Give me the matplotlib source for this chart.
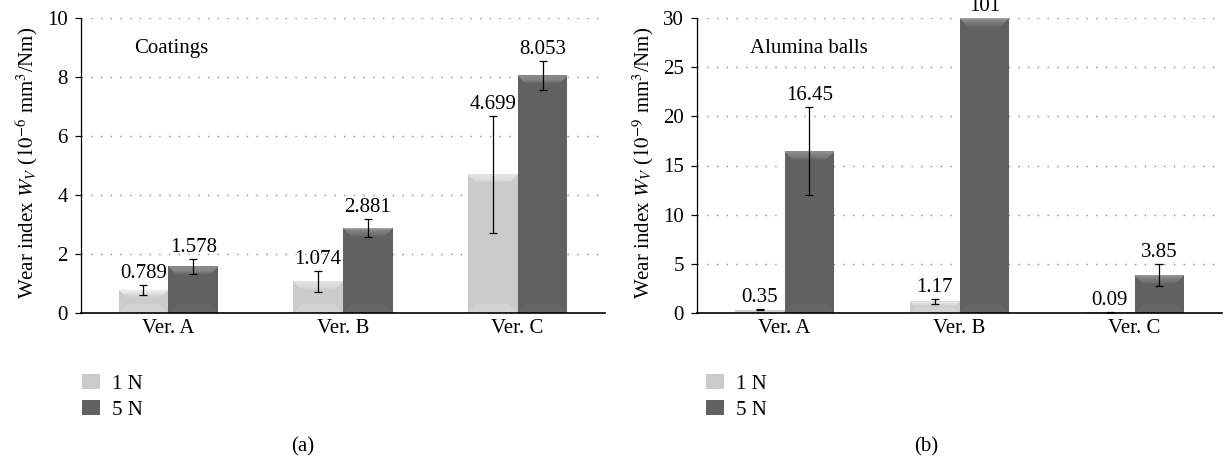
import matplotlib
matplotlib.use('Agg')
import matplotlib.pyplot as plt
from matplotlib.patches import Polygon, Patch
import numpy as np

# ---------------- data ----------------
categories = ['Ver. A', 'Ver. B', 'Ver. C']
series_labels = ['1 N', '5 N']

coat_1N = [0.789, 1.074, 4.699]
coat_5N = [1.578, 2.881, 8.053]
coat_1N_err = [0.17, 0.36, 1.99]
coat_5N_err = [0.24, 0.32, 0.50]

balls_1N = [0.35, 1.17, 0.09]
balls_5N = [16.45, 101, 3.85]
balls_1N_err = [0.08, 0.23, 0.05]
balls_5N_err = [4.5, 0.0, 1.1]   # error of the 101 bar is off-scale / not visible

panel_titles = ['Coatings', 'Alumina balls']
panel_tags = ['(a)', '(b)']
ylabels = [r'Wear index $W_V$ ($10^{-6}$ mm$^3$/Nm)',
           r'Wear index $W_V$ ($10^{-9}$ mm$^3$/Nm)']
ymax_list = [10, 30]
ystep_list = [2, 5]

# ---------------- style ----------------
plt.rcParams['font.family'] = ['Liberation Serif', 'DejaVu Serif']
plt.rcParams['mathtext.fontset'] = 'stix'
FS = 15
C1 = '#cbcbcb'
C5 = '#616161'
C1_TOP = '#f2f2f2'
C5_TOP = '#a4a4a4'
C1_BOT = '#d3d3d3'
C5_BOT = '#666666'

W, H = 1225, 463
fig = plt.figure(figsize=(W / 100, H / 100), dpi=100)


def rect(x0, x1, y0, y1):
    return [x0 / W, 1 - y1 / H, (x1 - x0) / W, (y1 - y0) / H]


def mix(c_a, c_b, t):
    a = np.array(matplotlib.colors.to_rgb(c_a))
    b = np.array(matplotlib.colors.to_rgb(c_b))
    return tuple(a * (1 - t) + b * t)


def bevel(ax, x0, x1, top, c_top, c_face, c_bot, ymax):
    # pixel -> data conversion factors
    p0 = ax.transData.transform((0, 0))
    p1 = ax.transData.transform((1, 1))
    ppx = p1[0] - p0[0]
    ppy = p1[1] - p0[1]
    top = min(top, ymax)
    hpx = min(9.0, top * ppy / 2.0)
    if hpx <= 0.5:
        return
    dx = hpx / ppx
    dy = hpx / ppy
    n = 8
    for i in range(n):
        t0, t1 = i / n, (i + 1) / n
        col = mix(c_top, c_face, (t0 + t1) / 2)
        poly = Polygon([(x0 + t0 * dx, top - t0 * dy), (x1 - t0 * dx, top - t0 * dy),
                        (x1 - t1 * dx, top - t1 * dy), (x0 + t1 * dx, top - t1 * dy)],
                       closed=True, facecolor=col, edgecolor='none', zorder=2.5)
        ax.add_patch(poly)
    # bottom bevel (subtle)
    poly = Polygon([(x0, 0), (x1, 0), (x1 - dx, dy), (x0 + dx, dy)],
                   closed=True, facecolor=c_bot, edgecolor='none', zorder=2.4)
    ax.add_patch(poly)


def draw_panel(ax, v1, e1, v5, e5, ymax, ystep, title):
    x = np.arange(len(categories))
    w = 0.285
    ax.set_xlim(-0.5, len(categories) - 0.5)
    ax.set_ylim(0, ymax)
    ax.bar(x - w / 2, v1, w, color=C1, zorder=2)
    ax.bar(x + w / 2, v5, w, color=C5, zorder=2)
    for xi, v in zip(x, v1):
        bevel(ax, xi - w, xi, v, C1_TOP, C1, C1_BOT, ymax)
    for xi, v in zip(x, v5):
        bevel(ax, xi, xi + w, v, C5_TOP, C5, C5_BOT, ymax)
    for xs, vs, es in ((x - w / 2, v1, e1), (x + w / 2, v5, e5)):
        ax.errorbar(xs, vs, yerr=es, fmt='none', ecolor='black', elinewidth=0.9,
                    capsize=3, capthick=0.9, zorder=4)
        for xi, v, e in zip(xs, vs, es):
            ax.annotate(str(v), xy=(xi, min(v + e, ymax)), xytext=(0, 5),
                        textcoords='offset points', ha='center', va='baseline',
                        fontsize=FS, annotation_clip=False, zorder=5)
    ax.set_yticks(np.arange(0, ymax + 0.01, ystep))
    ax.set_xticks(x)
    ax.set_xticklabels(categories)
    ax.tick_params(axis='y', length=4.5, width=0.9, direction='out', pad=5, labelsize=FS)
    ax.tick_params(axis='x', length=0, pad=4, labelsize=FS)
    for s in ('top', 'right'):
        ax.spines[s].set_visible(False)
    ax.spines['left'].set_linewidth(0.9)
    ax.spines['bottom'].set_linewidth(1.2)
    ax.set_axisbelow(True)
    ax.yaxis.grid(True, linestyle=(0, (1, 6)), color='#8c8c8c', linewidth=1.0)
    ax.text(0.101, 0.898, title, transform=ax.transAxes, fontsize=FS,
            ha='left', va='center')


ax1 = fig.add_axes(rect(81, 605, 18, 313))
ax2 = fig.add_axes(rect(697, 1222, 18, 313))

draw_panel(ax1, coat_1N, coat_1N_err, coat_5N, coat_5N_err,
           ymax_list[0], ystep_list[0], panel_titles[0])
draw_panel(ax2, balls_1N, balls_1N_err, balls_5N, balls_5N_err,
           ymax_list[1], ystep_list[1], panel_titles[1])

# y labels
fig.text(27 / W, 1 - 163 / H, ylabels[0], rotation=90, ha='center', va='center', fontsize=FS)
fig.text(643 / W, 1 - 163 / H, ylabels[1], rotation=90, ha='center', va='center', fontsize=FS)

# legends
handles = [Patch(facecolor=C1, edgecolor='none'), Patch(facecolor=C5, edgecolor='none')]
for ax, lx in ((ax1, 82), (ax2, 706)):
    ax.legend(handles, series_labels, loc='upper left',
              bbox_to_anchor=(lx / W, 1 - 374 / H), bbox_transform=fig.transFigure,
              frameon=False, fontsize=FS, borderpad=0, borderaxespad=0,
              handlelength=0.85, handleheight=0.75, handletextpad=0.6,
              labelspacing=0.3)

# panel tags
fig.text(303 / W, 1 - 447 / H, panel_tags[0], ha='center', va='center', fontsize=FS)
fig.text(926 / W, 1 - 447 / H, panel_tags[1], ha='center', va='center', fontsize=FS)

fig.savefig('out.png', dpi=100)
